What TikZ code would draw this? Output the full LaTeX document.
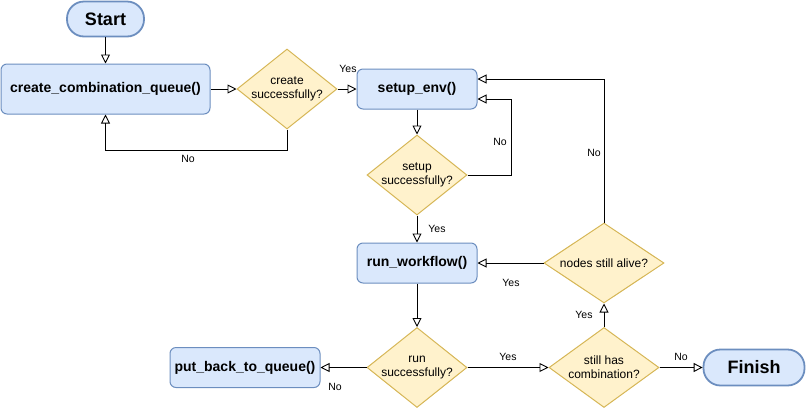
\documentclass[tikz,border=0pt]{standalone}
\usepackage{fontspec}
\setmainfont{Liberation Sans}
\usetikzlibrary{shapes.geometric,arrows.meta}
\definecolor{bfill}{HTML}{DAE8FC}
\definecolor{bline}{HTML}{6C8EBF}
\definecolor{yfill}{HTML}{FFF2CC}
\definecolor{yline}{HTML}{D6B656}
\begin{document}
\begin{tikzpicture}[x=1pt,y=-1pt,
 proc/.style={draw=bline, fill=bfill, line width=1pt, rounded corners=6pt, inner sep=0pt, font=\fontsize{14}{16}\selectfont\bfseries, minimum height=40pt},
 term/.style={draw=bline, fill=bfill, line width=1.8pt, rounded corners=17pt, font=\fontsize{18}{20}\selectfont\bfseries, inner sep=0pt},
 dec/.style={diamond, draw=yline, fill=yfill, line width=1pt, inner sep=-4pt, align=center, font=\fontsize{12}{14}\selectfont, minimum width=100pt, minimum height=80pt, aspect=1.25},
 lbl/.style={font=\fontsize{10.5}{12}\selectfont, inner sep=0pt},
 arr/.style={-{Triangle[open,length=9pt,width=9pt]}, line width=0.9pt},
]
\useasboundingbox (0,0) rectangle (806,408);
\node[term, minimum width=77pt, minimum height=35pt] (start) at (105.5,19) {Start};
\node[proc, minimum width=209pt, minimum height=50pt] (cq) at (105.5,89) {create\_combination\_queue()};
\node[dec] (d1) at (287,89) {create\\successfully?};
\node[proc, minimum width=120pt] (env) at (417,89) {setup\_env()};
\node[dec] (d2) at (417,175) {setup\\successfully?};
\node[proc, minimum width=120pt] (run) at (417,263) {run\_workflow()};
\node[dec] (d3) at (417,367.5) {run\\successfully?};
\node[proc, minimum width=150pt] (pb) at (245,367.5) {put\_back\_to\_queue()};
\node[dec, minimum width=110pt, aspect=1.375] (d4) at (604,367.5) {still has\\combination?};
\node[dec, minimum width=120pt, aspect=1.5] (d5) at (604,263) {nodes still alive?};
\node[term, minimum width=101pt, minimum height=36pt] (fin) at (754,367.5) {Finish};

\draw[arr] (start) -- (cq);
\draw[arr] (cq) -- (d1);
\draw[arr] (d1) -- (env);
\draw[arr] (d1.south) -- ++(0,21) -| (cq.south);
\draw[arr] (env) -- (d2);
\draw[arr] (d2.east) -- ++(44,0) |- ([yshift=-10pt]env.east);
\draw[arr] (d2) -- (run);
\draw[arr] (run) -- (d3);
\draw[arr] (d3) -- (pb);
\draw[arr] (d3) -- (d4);
\draw[arr] (d4) -- (d5);
\draw[arr] (d4) -- (fin);
\draw[arr] (d5) -- (run);
\draw[arr] (d5.north) |- ([yshift=10pt]env.east);

\node[lbl] (l1) at (348,69) {Yes};
\node[lbl] (l2) at (188,159) {No};
\node[lbl] (l3) at (500,142) {No};
\node[lbl] (l4) at (437,229) {Yes};
\node[lbl] (l5) at (511,283) {Yes};
\node[lbl] (l6) at (584,315) {Yes};
\node[lbl] (l7) at (508,357) {Yes};
\node[lbl] (l8) at (681,357) {No};
\node[lbl] (l9) at (335,387) {No};
\node[lbl] (l10) at (594,153) {No};
\end{tikzpicture}
\end{document}
